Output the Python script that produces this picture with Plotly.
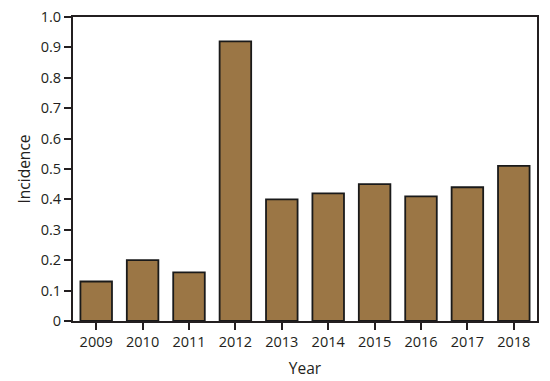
import plotly.graph_objects as go

years = ["2009", "2010", "2011", "2012", "2013", "2014", "2015", "2016", "2017", "2018"]
incidence = [0.13, 0.20, 0.16, 0.92, 0.40, 0.42, 0.45, 0.41, 0.44, 0.51]
y_ticks = [0, 0.1, 0.2, 0.3, 0.4, 0.5, 0.6, 0.7, 0.8, 0.9, 1.0]
y_tick_labels = ["0", "0.1", "0.2", "0.3", "0.4", "0.5", "0.6", "0.7", "0.8", "0.9", "1.0"]

fig = go.Figure(go.Bar(
    x=years, y=incidence,
    marker=dict(color="#9B7645", line=dict(color="#1a1a1a", width=1.8)),
))

# page body has a default 8px margin, so compensate
fig.update_layout(
    width=550, height=381,
    margin=dict(l=65, r=21, t=9, b=68, autoexpand=False),
    plot_bgcolor="white", paper_bgcolor="white",
    bargap=0.32,
    showlegend=False,
    font=dict(family="Open Sans, Noto Sans, sans-serif", size=14.5, color="#231f20"),
)
fig.update_xaxes(
    title=dict(text="Year", font=dict(size=15.5), standoff=13),
    automargin=False,
    showline=True, linecolor="#231f20", linewidth=2, mirror=True,
    ticks="outside", ticklen=7, tickwidth=2, tickcolor="#231f20",
    showgrid=False,
)
fig.update_yaxes(
    title=dict(text="Incidence", font=dict(size=15.5), standoff=6),
    automargin=False, ticklabeloverflow="allow",
    range=[0, 1.0], tickvals=y_ticks, ticktext=y_tick_labels,
    showline=True, linecolor="#231f20", linewidth=2, mirror=True,
    ticks="outside", ticklen=7, tickwidth=2, tickcolor="#231f20",
    showgrid=False, zeroline=False,
)

fig.write_html("out.html")
